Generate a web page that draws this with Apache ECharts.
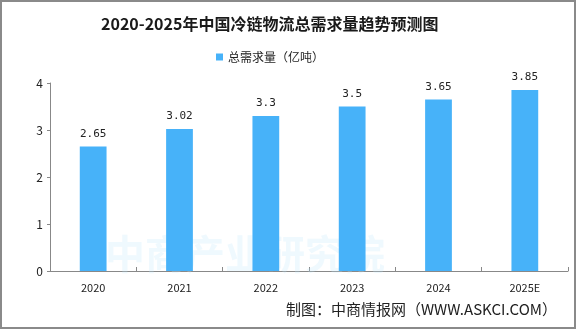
<!DOCTYPE html>
<html>
<head>
<meta charset="utf-8">
<script src="https://cdn.jsdelivr.net/npm/echarts@6/dist/echarts.min.js"></script>
<style>
  html, body { margin: 0; padding: 0; background: #fff; }
  #chart { width: 576px; height: 329px; }
</style>
</head>
<body>
<div id="chart"></div>
<script>
// Cold-chain logistics total demand, 2020-2025E (100 million tonnes)
const years = ['2020', '2021', '2022', '2023', '2024', '2025E'];
const demand = [2.65, 3.02, 3.3, 3.5, 3.65, 3.85];
const yTicks = [0, 1, 2, 3, 4];

const titleText = '2020-2025年中国冷链物流总需求量趋势预测图';
const seriesName = '总需求量（亿吨）';
const sourceText = '制图：中商情报网（WWW.ASKCI.COM）';
const watermarkText = '中商产业研究院';

const barColor = '#47B2F9';
const cjk = '"SimSun", "Noto Sans CJK SC", sans-serif';

const chart = echarts.init(document.getElementById('chart'), null, { renderer: 'canvas' });
chart.setOption({
  backgroundColor: '#ffffff',
  animation: false,
  title: {
    text: titleText,
    left: 96,
    top: 11,
    textStyle: { fontFamily: '"Noto Sans CJK SC", serif', fontWeight: 'bold', fontSize: 16, color: '#1a1a1a' }
  },
  legend: {
    top: 46,
    left: 211,
    itemWidth: 7,
    itemHeight: 7,
    itemGap: 4,
    icon: 'rect',
    textStyle: { fontFamily: cjk, fontSize: 12, color: '#222' },
    data: [seriesName]
  },
  grid: { left: 50, right: 8, top: 83, bottom: 58 },
  xAxis: {
    type: 'category',
    data: years,
    axisLine: { lineStyle: { color: '#888', width: 1 } },
    axisTick: { show: true, alignWithLabel: false, length: 4, inside: true, lineStyle: { color: '#888' } },
    axisLabel: { margin: 11, fontFamily: cjk, fontSize: 11, color: '#222' }
  },
  yAxis: {
    type: 'value',
    min: yTicks[0],
    max: yTicks[yTicks.length - 1],
    interval: 1,
    splitLine: { show: false },
    axisLine: { show: true, lineStyle: { color: '#888' } },
    axisTick: { show: true, length: 3, lineStyle: { color: '#888' } },
    axisLabel: { margin: 7, fontFamily: cjk, fontSize: 12, color: '#222' }
  },
  series: [{
    name: seriesName,
    type: 'bar',
    data: demand,
    barWidth: '31%',
    itemStyle: { color: barColor },
    label: {
      show: true,
      position: 'top',
      distance: 7,
      fontFamily: '"DejaVu Sans Mono", monospace',
      fontSize: 11,
      color: '#222'
    },
    z: 3
  }],
  graphic: [
    {
      type: 'text',
      left: 105,
      top: 234,
      z: 1,
      silent: true,
      style: {
        text: watermarkText,
        font: 'bold 40px "Noto Sans CJK SC"',
        fill: 'rgba(190, 230, 250, 0.25)'
      }
    },
    {
      type: 'text',
      right: 19,
      top: 302,
      style: {
        text: sourceText,
        font: '15px "Noto Sans CJK SC"',
        fill: '#222'
      }
    },
    {
      type: 'rect',
      shape: { x: 1, y: 1, width: 574, height: 327 },
      style: { fill: 'none', stroke: '#8a8a8a', lineWidth: 2 },
      silent: true,
      z: 10
    }
  ]
});
</script>
</body>
</html>
